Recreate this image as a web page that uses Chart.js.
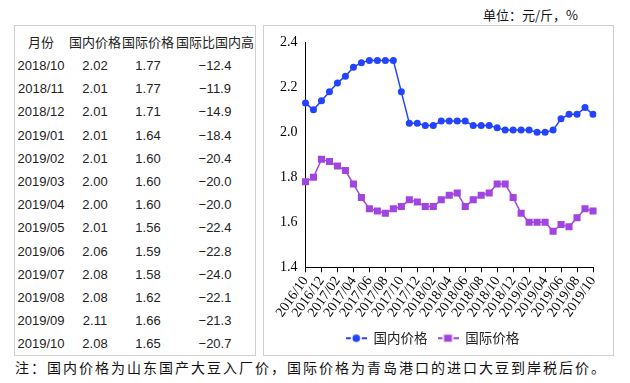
<!DOCTYPE html>
<html><head><meta charset="utf-8">
<script src="https://cdn.jsdelivr.net/npm/chart.js@4"></script>
<style>
html,body{margin:0;padding:0;background:#fff;width:630px;height:383px;overflow:hidden;}
body{position:relative;}
#tbl{position:absolute;left:14px;top:25px;width:242px;height:331px;border:1px solid #cfcfcf;box-sizing:border-box;}
.cell{position:absolute;height:20px;line-height:20px;text-align:center;white-space:nowrap;font-family:"Liberation Sans","Noto Sans CJK SC",sans-serif;font-size:13px;color:#222;}
#box{position:absolute;left:263px;top:25px;width:351px;height:331px;border:1px solid #cfcfcf;box-sizing:border-box;}
#c{position:absolute;left:0;top:0;}
#unit{position:absolute;left:483px;top:5px;font-family:"Noto Sans CJK SC",sans-serif;font-size:13px;color:#111;white-space:nowrap;}
#note{position:absolute;left:15px;top:357px;font-family:"Noto Sans CJK SC",sans-serif;font-size:14px;letter-spacing:2px;color:#111;white-space:nowrap;}
</style></head>
<body>
<div id="unit">单位：元/斤，%</div>
<div id="tbl"></div>
<div id="box"><canvas id="c" width="349" height="329"></canvas></div>
<div id="note">注：国内价格为山东国产大豆入厂价，国际价格为青岛港口的进口大豆到岸税后价。</div>
<script>
const months = ["2016/10","2016/11","2016/12","2017/01","2017/02","2017/03","2017/04","2017/05","2017/06","2017/07","2017/08","2017/09","2017/10","2017/11","2017/12","2018/01","2018/02","2018/03","2018/04","2018/05","2018/06","2018/07","2018/08","2018/09","2018/10","2018/11","2018/12","2019/01","2019/02","2019/03","2019/04","2019/05","2019/06","2019/07","2019/08","2019/09","2019/10"];
const domestic = [2.13,2.10,2.14,2.18,2.22,2.25,2.29,2.31,2.32,2.32,2.32,2.32,2.18,2.04,2.04,2.03,2.03,2.05,2.05,2.05,2.05,2.03,2.03,2.03,2.02,2.01,2.01,2.01,2.01,2.00,2.00,2.01,2.06,2.08,2.08,2.11,2.08];
const international = [1.78,1.80,1.88,1.87,1.85,1.83,1.77,1.71,1.66,1.65,1.64,1.66,1.67,1.70,1.69,1.67,1.67,1.70,1.72,1.73,1.67,1.70,1.72,1.73,1.77,1.77,1.71,1.64,1.60,1.60,1.60,1.56,1.59,1.58,1.62,1.66,1.65];
const intlVsDomestic = [-12.4,-11.9,-14.9,-18.4,-20.4,-20.0,-20.0,-22.4,-22.8,-24.0,-22.1,-21.3,-20.7];
const tableHeaders = ["月份","国内价格","国际价格","国际比国内高"];
const seriesNames = ["国内价格","国际价格"];
const yTicks = [1.4,1.6,1.8,2.0,2.2,2.4];

// ---- table ----
const tbl = document.getElementById('tbl');
const colX = [26, 80, 133, 200]; // centers relative to table box
function addCell(text, cx, cy){
  const d = document.createElement('div');
  d.className='cell'; d.textContent=text;
  d.style.left=(cx-50)+'px'; d.style.width='100px'; d.style.top=(cy-10)+'px';
  tbl.appendChild(d);
}
tableHeaders.forEach((h,i)=>addCell(h,colX[i],17));
const n = intlVsDomestic.length, off = months.length - n;
for(let i=0;i<n;i++){
  const cy = 40 + i*23.2;
  addCell(months[off+i], colX[0], cy);
  addCell(domestic[off+i].toFixed(2), colX[1], cy);
  addCell(international[off+i].toFixed(2), colX[2], cy);
  addCell(intlVsDomestic[i].toFixed(1).replace('-','−'), colX[3], cy);
}

// ---- legend icons ----
const BLUE='#2243ff', PURPLE='#a244e0';
function icon(color, square){
  const c=document.createElement('canvas'); c.width=21; c.height=10;
  const g=c.getContext('2d');
  g.strokeStyle=color; g.lineWidth=2;
  g.beginPath(); g.moveTo(0,5); g.lineTo(5,5); g.moveTo(16,5); g.lineTo(21,5); g.stroke();
  g.fillStyle=color;
  if(square){ g.fillRect(6.5,1.5,8,7); } else { g.beginPath(); g.arc(10.5,5,3.8,0,Math.PI*2); g.fill(); }
  return c;
}
const icons=[icon(BLUE,false), icon(PURPLE,true)];

new Chart(document.getElementById('c'), {
  type:'line',
  data:{
    labels: months,
    datasets:[
      {label:seriesNames[0], data:domestic, borderColor:BLUE, backgroundColor:BLUE, borderWidth:1.5, pointRadius:3.5, pointHoverRadius:3.5, pointStyle:'circle', pointBorderWidth:0, tension:0},
      {label:seriesNames[1], data:international, borderColor:PURPLE, backgroundColor:PURPLE, borderWidth:1.5, pointRadius:5, pointHoverRadius:5, pointStyle:'rect', pointBorderWidth:0, tension:0}
    ]
  },
  options:{
    responsive:false, animation:false,
    layout:{padding:{left:8,right:20,top:12,bottom:0}},
    plugins:{
      tooltip:{enabled:false},
      legend:{position:'bottom', labels:{usePointStyle:true, pointStyleWidth:21, color:'#222', font:{family:'"Noto Sans CJK SC", sans-serif', size:13.5}, padding:10,
        generateLabels(chart){
          const items = Chart.defaults.plugins.legend.labels.generateLabels(chart);
          items.forEach((it,i)=>{ it.pointStyle = icons[i]; });
          return items;
        }}}
    },
    scales:{
      x:{
        offset:false,
        grid:{display:true, drawOnChartArea:false, drawTicks:true, tickLength:5, color:(ctx)=> ctx.index%2===0 ? '#000' : 'rgba(0,0,0,0)'},
        border:{display:true, color:'#000', width:1},
        ticks:{autoSkip:false, minRotation:55, maxRotation:55, padding:1, color:'#000', font:{family:'"Liberation Serif", serif', size:14},
          callback(v, i){ return i%2===0 ? this.getLabelForValue(v) : ''; }}
      },
      y:{
        min:yTicks[0], max:yTicks[yTicks.length-1],
        afterBuildTicks(s){ s.ticks = yTicks.map(v=>({value:v})); },
        grid:{display:false, drawTicks:false},
        border:{display:true, color:'#000', width:1},
        ticks:{padding:8, color:'#000', font:{family:'"Liberation Serif", serif', size:14}, callback:(v)=>Number(v).toFixed(1)}
      }
    }
  }
});
</script>
</body></html>
